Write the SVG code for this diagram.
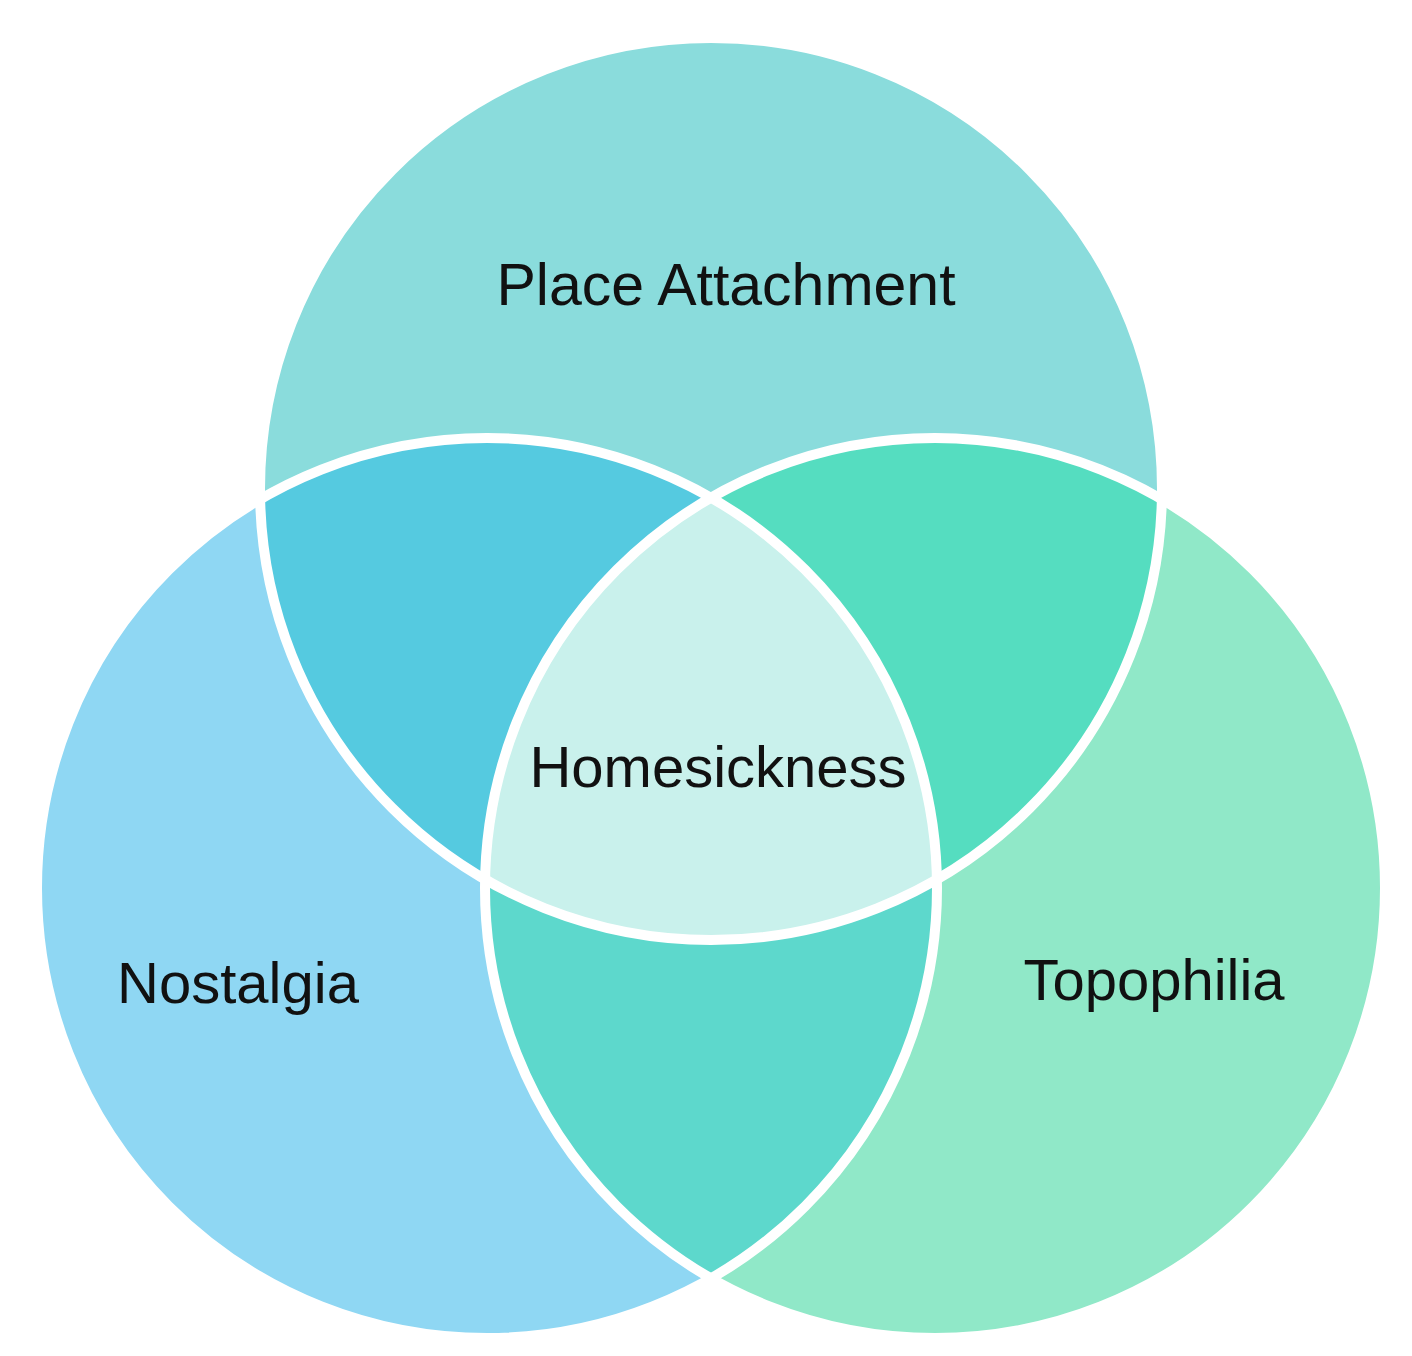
<svg xmlns="http://www.w3.org/2000/svg" width="1412" height="1356" viewBox="0 0 1412 1356">
  <style>
    .lbl { font-family: "Liberation Sans", Arial, sans-serif; font-size: 58px; fill: #111111; text-anchor: middle; }
    .ring { fill: none; stroke: #ffffff; stroke-width: 10; }
  </style>
  <defs>
    <clipPath id="clipT"><circle cx="711" cy="489" r="451"/></clipPath>
    <clipPath id="clipL"><circle cx="487" cy="888" r="450"/></clipPath>
    <clipPath id="clipR"><circle cx="935" cy="888" r="450"/></clipPath>
  </defs>
  <rect width="1412" height="1356" fill="#ffffff"/>
  <g id="nostalgia">
    <circle cx="487" cy="888" r="450" fill="#8fd7f3"/>
  </g>
  <g id="topophilia">
    <circle cx="935" cy="888" r="450" fill="#90e8c8"/>
  </g>
  <g id="place-attachment">
    <circle cx="711" cy="489" r="451" fill="#8adcdc"/>
  </g>
  <g id="overlaps">
    <circle cx="711" cy="489" r="451" fill="#55cae0" clip-path="url(#clipL)"/>
    <circle cx="711" cy="489" r="451" fill="#55ddc0" clip-path="url(#clipR)"/>
    <circle cx="487" cy="888" r="450" fill="#5dd8cc" clip-path="url(#clipR)"/>
    <g clip-path="url(#clipR)">
      <circle cx="711" cy="489" r="451" fill="#c9f1ec" clip-path="url(#clipL)"/>
    </g>
  </g>
  <g id="outlines">
    <circle class="ring" cx="711" cy="489" r="451"/>
    <circle class="ring" cx="487" cy="888" r="450"/>
    <circle class="ring" cx="935" cy="888" r="450"/>
  </g>
  <g id="labels">
    <text class="lbl" x="726" y="305" style="font-size:59px">Place Attachment</text>
    <text class="lbl" x="718" y="787">Homesickness</text>
    <text class="lbl" x="238" y="1003">Nostalgia</text>
    <text class="lbl" x="1154" y="1000">Topophilia</text>
  </g>
</svg>
